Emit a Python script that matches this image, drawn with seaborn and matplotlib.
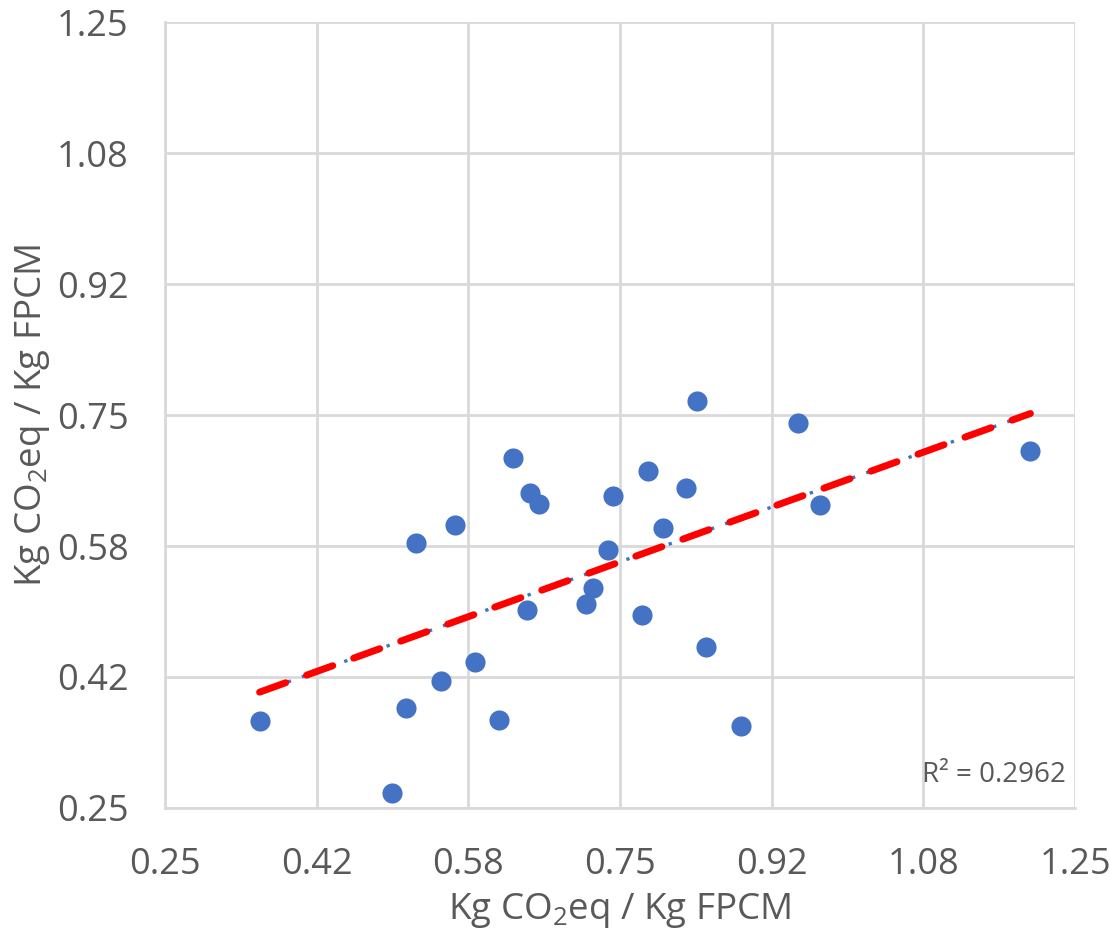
import matplotlib
matplotlib.use("Agg")
import matplotlib.pyplot as plt
import pandas as pd
import seaborn as sns

# Data
x_vals = [0.354, 0.499, 0.515, 0.526, 0.553, 0.569, 0.591, 0.617, 0.632, 0.648,
          0.651, 0.661, 0.713, 0.720, 0.737, 0.742, 0.774, 0.781, 0.797, 0.823,
          0.835, 0.845, 0.883, 0.946, 0.970, 1.201]
y_vals = [0.361, 0.269, 0.377, 0.587, 0.412, 0.610, 0.436, 0.362, 0.695, 0.502,
          0.651, 0.637, 0.510, 0.530, 0.578, 0.647, 0.496, 0.679, 0.606, 0.657,
          0.768, 0.455, 0.354, 0.740, 0.635, 0.704]
tick_vals = [0.25, 0.4167, 0.5833, 0.75, 0.9167, 1.0833, 1.25]
tick_labels = ["0.25", "0.42", "0.58", "0.75", "0.92", "1.08", "1.25"]
r2_text = "R² = 0.2962"
axis_label = r"Kg CO$_2$eq / Kg FPCM"

df = pd.DataFrame({"x": x_vals, "y": y_vals})

sns.set_theme(style="white")
plt.rcParams["font.family"] = ["Open Sans", "DejaVu Sans"]
plt.rcParams["mathtext.fontset"] = "custom"
plt.rcParams["mathtext.rm"] = "Open Sans"
plt.rcParams["mathtext.it"] = "Open Sans"

grey = "#595959"
grid_c = "#d9d9d9"

fig, ax = plt.subplots(figsize=(11.1, 9.38), dpi=100)
fig.subplots_adjust(left=0.1486, right=0.9685, top=0.9765, bottom=0.1386)

ax.set_xlim(0.25, 1.25)
ax.set_ylim(0.25, 1.25)
ax.set_xticks(tick_vals)
ax.set_xticklabels(tick_labels)
ax.set_yticks(tick_vals)
ax.set_yticklabels(tick_labels)
ax.grid(True, color=grid_c, linewidth=2)
ax.set_axisbelow(True)
for side, sp in ax.spines.items():
    if side in ("left", "bottom"):
        sp.set_color(grid_c)
        sp.set_linewidth(2)
    else:
        sp.set_visible(False)
ax.tick_params(axis="both", length=0, labelsize=26, colors=grey)
ax.tick_params(axis="x", pad=28)
ax.tick_params(axis="y", pad=26)

# trendline: thin blue dash-dot under a thick red dashed line
sns.regplot(data=df, x="x", y="y", ax=ax, scatter=False, ci=None, truncate=True,
            line_kws=dict(color="#4472C4", linewidth=2.4, linestyle=(0, (1, 3.5))))
sns.regplot(data=df, x="x", y="y", ax=ax, scatter=False, ci=None, truncate=True,
            line_kws=dict(color="#FF0000", linewidth=5, linestyle=(0, (4, 3.2)),
                          solid_capstyle="round", dash_capstyle="round"))

sns.scatterplot(data=df, x="x", y="y", ax=ax, s=210, color="#4472C4",
                edgecolor="#4472C4", linewidth=0, zorder=5)

ax.text(0.99, 0.024, r2_text, transform=ax.transAxes, ha="right", va="bottom",
        fontsize=20, color=grey)

ax.set_xlabel(axis_label, fontsize=26.5, color=grey, labelpad=6)
ax.set_ylabel(axis_label, fontsize=26.5, color=grey, labelpad=4)

fig.savefig("out.png", dpi=100)
